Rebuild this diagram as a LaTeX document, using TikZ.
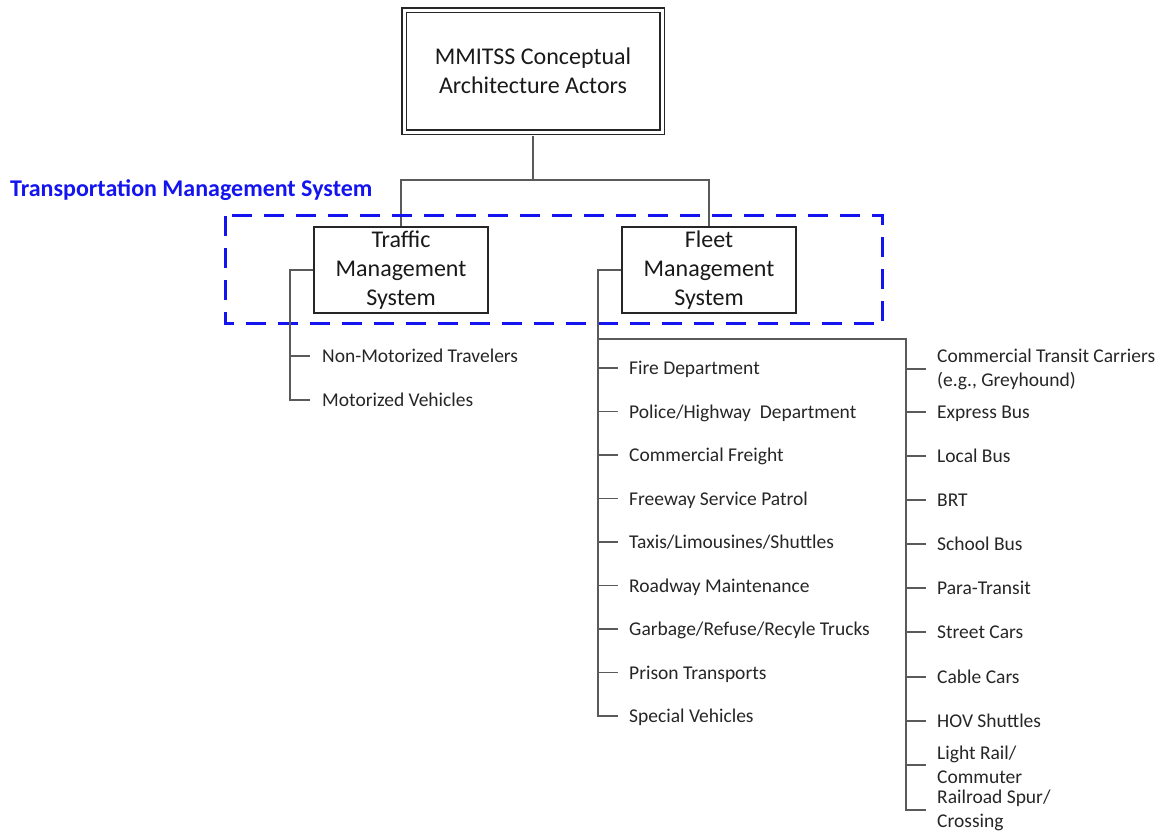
\documentclass[tikz,border=0pt]{standalone}
\usepackage{fontspec}
\setmainfont{Carlito}
\definecolor{conncol}{RGB}{90,90,90}
\definecolor{txtcol}{RGB}{38,38,38}
\definecolor{tmsblue}{RGB}{20,20,240}
\begin{document}
\begin{tikzpicture}[x=1pt,y=-1pt,
 conn/.style={draw=conncol,line width=1.3pt},
 sysbox/.style={draw=black!85,line width=1.8pt,align=center,inner sep=0pt,minimum width=174pt,minimum height=86pt,font=\fontsize{24}{29}\selectfont,text=black!90},
 item/.style={anchor=west,inner sep=0pt,font=\fontsize{19.5}{24}\selectfont,text=txtcol,text height=15pt,text depth=2pt},
 itemtwo/.style={anchor=west,inner sep=0pt,align=left,font=\fontsize{19.5}{24}\selectfont,text=txtcol}
]
\useasboundingbox (0,0) rectangle (1164,833);

% top box
\node[draw=black!85,double=white,double distance=3pt,line width=1.5pt,minimum width=258pt,minimum height=122pt,inner sep=0pt,align=center,font=\fontsize{24}{29}\selectfont,text=black!90] (top) at (533,71) {MMITSS Conceptual\\Architecture Actors};

% system boxes
\node[sysbox] (tms) at (401,270) {Traffic\\Management\\System};
\node[sysbox] (fms) at (709,270) {Fleet\\Management\\System};

% junction
\coordinate (j) at (533,180);
\draw[conn] ([yshift=-3pt]top.south) -- (j);
\draw[conn] (tms.north) |- (j) -| (fms.north);

% dashed group
\draw[tmsblue,line width=3pt,dash pattern=on 20pt off 12pt] (225.5,215.5) rectangle (882.5,323.5);
\node[anchor=base west,inner sep=0pt,text=tmsblue,font=\fontsize{24}{29}\selectfont\bfseries] (tmslabel) at (10,196) {Transportation Management System};

% traffic branch
\node[item] (nm) at (322,356) {Non-Motorized Travelers};
\node[item] (mv) at (322,400) {Motorized Vehicles};
\draw[conn] (tms.west) -| ([xshift=-32pt]mv.west) -- ([xshift=-12pt]mv.west);
\draw[conn] ([xshift=-32pt]nm.west) -- ([xshift=-12pt]nm.west);

% fleet left column
\foreach \t [count=\i] in {Fire Department,Police/Highway~ Department,Commercial Freight,Freeway Service Patrol,Taxis/Limousines/Shuttles,Roadway Maintenance,Garbage/Refuse/Recyle Trucks,Prison Transports,Special Vehicles}{
  \node[item] (l\i) at (629,{368+43.5*(\i-1)}) {\t};
  \draw[conn] ([xshift=-31pt]l\i.west) -- ([xshift=-11pt]l\i.west);
}
\draw[conn] (fms.west) -| ([xshift=-31pt]l9.west) -- ([xshift=-11pt]l9.west);

% fleet right column
\node[itemtwo] (r1) at (937,369) {Commercial Transit Carriers\\(e.g., Greyhound)};
\node[item] (r2) at (937,412) {Express Bus};
\node[item] (r3) at (937,456) {Local Bus};
\node[item] (r4) at (937,500) {BRT};
\node[item] (r5) at (937,544) {School Bus};
\node[item] (r6) at (937,588) {Para-Transit};
\node[item] (r7) at (937,632) {Street Cars};
\node[item] (r8) at (937,677) {Cable Cars};
\node[item] (r9) at (937,721) {HOV Shuttles};
\node[itemtwo] (r10) at (937,765) {Light Rail/\\Commuter};
\node[itemtwo] (r11) at (937,810) {Railroad Spur/\\Crossing};
\foreach \i in {1,...,10}{
  \draw[conn] ([xshift=-31pt]r\i.west) -- ([xshift=-11pt]r\i.west);
}
\coordinate (fb) at (598,339);
\draw[conn] (fb) -| ([xshift=-31pt]r11.west) -- ([xshift=-11pt]r11.west);
\end{tikzpicture}
\end{document}
